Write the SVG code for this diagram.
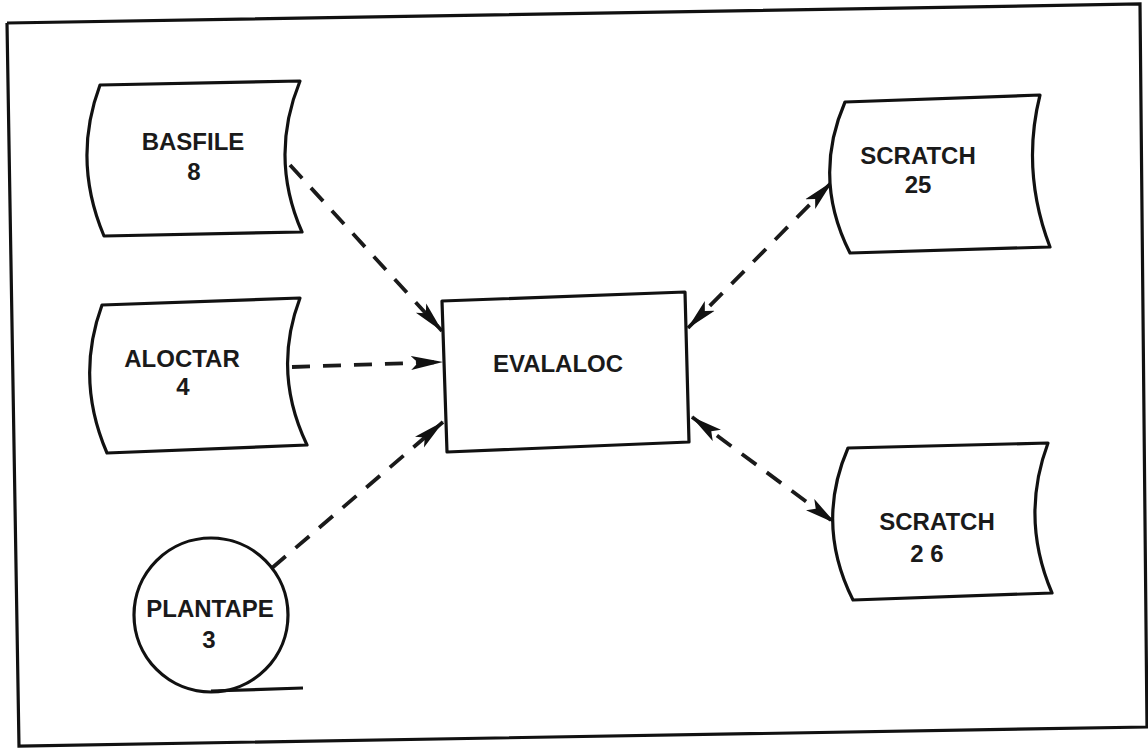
<svg xmlns="http://www.w3.org/2000/svg" width="1148" height="748" viewBox="0 0 1148 748">
  <style>
    .shape { fill: #fff; stroke: #111; stroke-width: 3.2; stroke-linejoin: round; }
    .frame { fill: none; stroke: #111; stroke-width: 3.2; }
    .lbl { font-family: "Liberation Sans", Arial, sans-serif; font-weight: bold; font-size: 24px; fill: #1a1a1a; text-anchor: middle; }
    .flow { fill: none; stroke: #1a1a1a; stroke-width: 3.8; stroke-dasharray: 18 13; }
  </style>
  <defs>
    <marker id="ah" markerUnits="userSpaceOnUse" markerWidth="32" markerHeight="16" viewBox="0 0 32 16" refX="31" refY="8" orient="auto-start-reverse">
      <path d="M0,1 L32,8 L0,15 L7,8 Z" fill="#111"/>
    </marker>
  </defs>
  <rect width="1148" height="748" fill="#fff"/>
  <path class="frame" d="M7,23 L1140,4 L1147,728 M1148,727 L19,746 L7,23"/>

  <g id="connectors">
    <line class="flow" x1="290" y1="165" x2="442" y2="331" marker-end="url(#ah)"/>
    <line class="flow" x1="292" y1="367" x2="442" y2="362" marker-end="url(#ah)"/>
    <line class="flow" x1="272" y1="568" x2="443" y2="422" marker-end="url(#ah)"/>
    <line class="flow" x1="688" y1="328" x2="832" y2="182" marker-start="url(#ah)" marker-end="url(#ah)"/>
    <line class="flow" x1="692" y1="417" x2="835" y2="523" marker-start="url(#ah)" marker-end="url(#ah)"/>
  </g>

  <g id="basfile">
    <path class="shape" d="M100,85 L300,81 Q269,157 302,232 L104,236 Q72,160 100,85 Z"/>
    <text class="lbl" x="193" y="150">BASFILE</text>
    <text class="lbl" x="194" y="180">8</text>
  </g>

  <g id="aloctar">
    <path class="shape" d="M102,305 L300,298 Q272,372 307,445 L107,453 Q75,379 102,305 Z"/>
    <text class="lbl" x="182" y="367">ALOCTAR</text>
    <text class="lbl" x="183" y="395">4</text>
  </g>

  <g id="plantape">
    <circle class="shape" cx="211" cy="615" r="77"/>
    <line x1="211" y1="691" x2="303" y2="688" stroke="#111" stroke-width="3.2"/>
    <text class="lbl" x="210" y="617">PLANTAPE</text>
    <text class="lbl" x="209" y="648">3</text>
  </g>

  <g id="evalaloc">
    <path class="shape" d="M442,301 L685,292 L689,442 L447,452 Z"/>
    <text class="lbl" x="558" y="372">EVALALOC</text>
  </g>

  <g id="scratch25">
    <path class="shape" d="M845,102 L1040,95 Q1021,171 1050,247 L850,253 Q812,178 845,102 Z"/>
    <text class="lbl" x="918" y="164">SCRATCH</text>
    <text class="lbl" x="918" y="193">25</text>
  </g>

  <g id="scratch26">
    <path class="shape" d="M848,448 L1048,443 Q1020,518 1052,593 L853,600 Q815,524 848,448 Z"/>
    <text class="lbl" x="937" y="530">SCRATCH</text>
    <text class="lbl" x="927" y="562">2 6</text>
  </g>
</svg>
